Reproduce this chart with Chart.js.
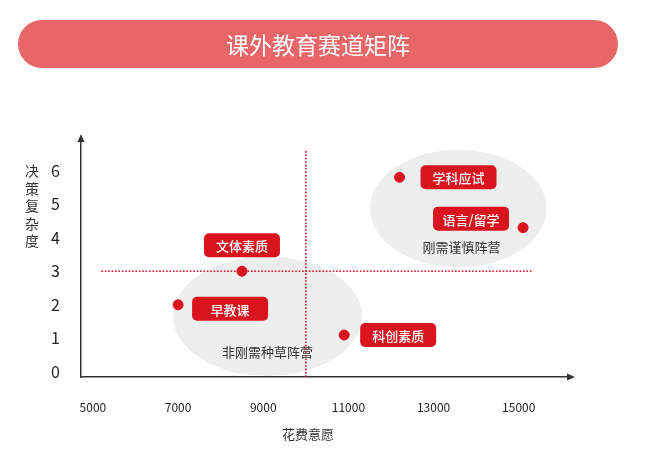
<!DOCTYPE html>
<html>
<head>
<meta charset="utf-8">
<script src="https://cdn.jsdelivr.net/npm/chart.js@4.4.0/dist/chart.umd.min.js"></script>
<style>
html, body { margin: 0; padding: 0; background: #fff; }
#wrap { position: relative; width: 660px; height: 450px; font-family: "Noto Sans CJK SC", sans-serif; }
#banner { position: absolute; left: 18px; top: 20px; width: 600px; height: 48px; border-radius: 24px;
  background: #e86667; color: #fff; font-size: 23px; line-height: 48px; text-align: center; }
#ytitle { position: absolute; left: 24px; top: 162px; width: 16px; font-size: 14px; line-height: 17.5px;
  color: #333; text-align: center; }
#xtitle { position: absolute; left: 258px; top: 424px; width: 100px; font-size: 13px; line-height: 20px;
  color: #333; text-align: center; }
canvas { position: absolute; left: 0; top: 0; }
</style>
</head>
<body>
<div id="wrap">
  <canvas id="matrix" width="660" height="450"></canvas>
  <div id="banner">课外教育赛道矩阵</div>
  <div id="ytitle">决<br>策<br>复<br>杂<br>度</div>
  <div id="xtitle">花费意愿</div>
</div>
<script>
// data
const categories = ["早教课", "文体素质", "科创素质", "学科应试", "语言/留学"];
const spendValues = [7000, 8500, 10900, 12200, 15100];
const complexityValues = [2, 3, 1.1, 5.8, 4.3];
const xTicks = [5000, 7000, 9000, 11000, 13000, 15000];
const yTicks = [0, 1, 2, 3, 4, 5, 6];
const splitX = 10000;
const splitY = 3;
const groupNames = ["非刚需种草阵营", "刚需谨慎阵营"];

const RED = "#d9141e";
Chart.defaults.font.family = '"Noto Sans CJK SC", "Noto Sans", sans-serif';

// label box offsets from each point (px)
const labelOffsets = [[52, 4], [0, -26], [54, 0], [59, 0], [-52, -9]];
// ellipse zones, in data units
const zones = [
  { cx: 9100, cy: 1.66, rx: 2220, ry: 1.78, tx: 9100, ty: 0.6 },
  { cx: 13580, cy: 4.87, rx: 2075, ry: 1.75, tx: 13655, ty: 3.71 }
];

const matrixPlugin = {
  id: "matrixDecor",
  beforeDatasetsDraw(chart) {
    const { ctx, scales: { x, y } } = chart;
    ctx.save();
    zones.forEach((z, i) => {
      const cx = x.getPixelForValue(z.cx), cy = y.getPixelForValue(z.cy);
      const rx = x.getPixelForValue(z.cx + z.rx) - cx;
      const ry = cy - y.getPixelForValue(z.cy + z.ry);
      ctx.fillStyle = "#eeeeee";
      ctx.beginPath();
      ctx.ellipse(cx, cy, rx, ry, 0, 0, Math.PI * 2);
      ctx.fill();
      ctx.fillStyle = "#333";
      ctx.font = '13px "Noto Sans CJK SC"';
      ctx.textAlign = "center";
      ctx.textBaseline = "middle";
      ctx.fillText(groupNames[i], x.getPixelForValue(z.tx), y.getPixelForValue(z.ty));
    });
    ctx.restore();
  },
  afterDatasetsDraw(chart) {
    const { ctx } = chart;
    const meta = chart.getDatasetMeta(0);
    ctx.save();
    meta.data.forEach((pt, i) => {
      const cx = pt.x + labelOffsets[i][0], cy = pt.y + labelOffsets[i][1];
      ctx.fillStyle = RED;
      ctx.beginPath();
      ctx.roundRect(cx - 38, cy - 12, 76, 24, 5);
      ctx.fill();
      ctx.fillStyle = "#fff";
      ctx.font = '500 13px "Noto Sans CJK SC"';
      ctx.textAlign = "center";
      ctx.textBaseline = "middle";
      ctx.fillText(categories[i], cx, cy + 1);
    });
    ctx.restore();
  },
  afterDraw(chart) {
    const { ctx, chartArea: a } = chart;
    ctx.save();
    ctx.fillStyle = "#333";
    ctx.beginPath();
    ctx.moveTo(a.right + 3, a.bottom);
    ctx.lineTo(a.right - 5, a.bottom - 3.5);
    ctx.lineTo(a.right - 5, a.bottom + 3.5);
    ctx.closePath();
    ctx.fill();
    ctx.beginPath();
    ctx.moveTo(a.left, a.top - 3);
    ctx.lineTo(a.left - 3.5, a.top + 5);
    ctx.lineTo(a.left + 3.5, a.top + 5);
    ctx.closePath();
    ctx.fill();
    ctx.restore();
  }
};

new Chart(document.getElementById("matrix"), {
  type: "scatter",
  data: {
    datasets: [
      {
        label: "赛道",
        data: categories.map((c, i) => ({ x: spendValues[i], y: complexityValues[i] })),
        backgroundColor: RED,
        borderColor: RED,
        pointRadius: 5,
        pointHoverRadius: 5,
        order: 0
      },
      {
        label: "splitY",
        data: [{ x: 5200, y: splitY }, { x: 15300, y: splitY }],
        showLine: true,
        borderColor: RED,
        borderWidth: 1.6,
        borderDash: [1.6, 1.8],
        pointRadius: 0,
        order: 1
      },
      {
        label: "splitX",
        data: [{ x: splitX, y: -0.15 }, { x: splitX, y: 6.6 }],
        showLine: true,
        borderColor: RED,
        borderWidth: 1.6,
        borderDash: [1.6, 1.8],
        pointRadius: 0,
        order: 1
      }
    ]
  },
  options: {
    responsive: false,
    animation: false,
    layout: { padding: { top: 137, right: 88, bottom: 0, left: 0 } },
    plugins: { legend: { display: false }, tooltip: { enabled: false } },
    scales: {
      x: {
        type: "linear",
        min: 4720,
        max: 16250,
        afterBuildTicks: s => { s.ticks = xTicks.map(v => ({ value: v })); },
        afterFit: s => { s.height = 73; },
        grid: { display: false },
        border: { display: true, color: "#333", width: 1.5 },
        ticks: { padding: 15, autoSkip: false, maxRotation: 0, color: "#222", font: { size: 12 }, callback: v => String(v) }
      },
      y: {
        type: "linear",
        min: -0.15,
        max: 7,
        afterBuildTicks: s => { s.ticks = yTicks.map(v => ({ value: v })); },
        afterFit: s => { s.width = 81; },
        grid: { display: false },
        border: { display: true, color: "#333", width: 1.5 },
        ticks: { padding: 13, color: "#222", font: { size: 16 }, callback: v => String(v) }
      }
    }
  },
  plugins: [matrixPlugin]
});
</script>
</body>
</html>
